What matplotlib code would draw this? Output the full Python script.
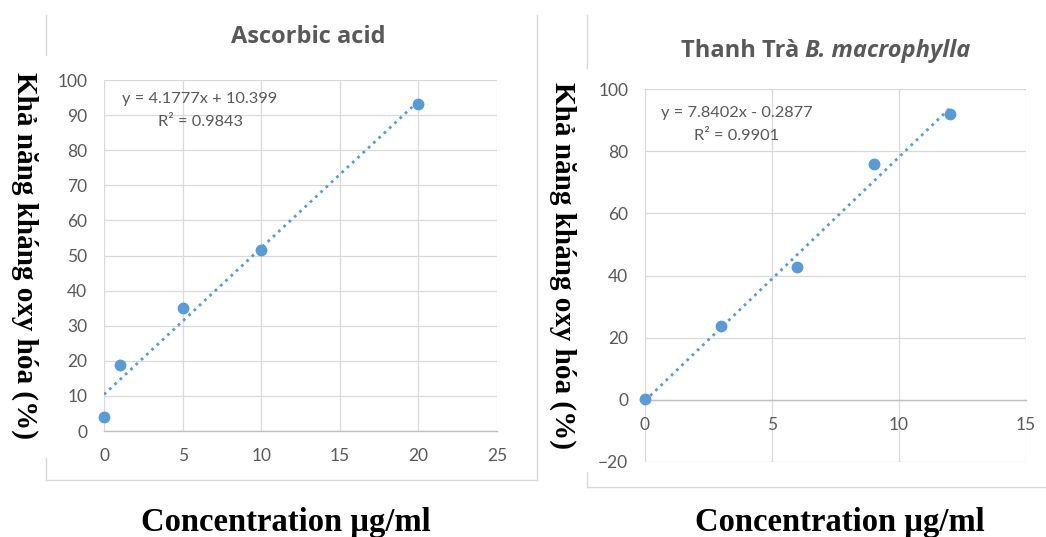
import matplotlib
matplotlib.use("Agg")
import matplotlib.pyplot as plt
from matplotlib.lines import Line2D

# data
asc_x = [0, 1, 5, 10, 20]
asc_y = [4.0, 18.8, 35.0, 51.5, 93.1]
asc_fit = (4.1777, 10.399)
asc_eq = ["y = 4.1777x + 10.399", "R² = 0.9843"]

tt_x = [0, 3, 6, 9, 12]
tt_y = [0.3, 23.7, 42.8, 76.0, 92.0]
tt_fit = (7.8402, -0.2877)
tt_eq = ["y = 7.8402x - 0.2877", "R² = 0.9901"]

blue = "#5b9bd5"
grey_txt = "#595959"
grid_c = "#d9d9d9"
excel_font = "Lato"
title_font = "Open Sans"
serif_font = "Liberation Serif"
ylab = "Khả năng kháng oxy hóa (%)"
xlab = "Concentration µg/ml"

W, H = 1046, 537
fig = plt.figure(figsize=(W / 100, H / 100), dpi=100)


def fx(px):
    return px / W


def fy(py):
    return 1 - py / H


def setup(ax, xlim, xticks, ylim, yticks):
    ax.set_xlim(*xlim)
    ax.set_ylim(*ylim)
    ax.set_xticks(xticks)
    ax.set_yticks(yticks)
    ax.grid(True, color=grid_c, linewidth=0.9)
    ax.set_axisbelow(True)
    for s in ["top", "right", "left"]:
        ax.spines[s].set_visible(False)
    ax.spines["bottom"].set_position(("data", 0))
    ax.spines["bottom"].set_color("#bfbfbf")
    ax.spines["bottom"].set_linewidth(1.0)
    ax.tick_params(length=0, labelsize=12.5, labelcolor=grey_txt)
    ax.tick_params(axis="x", pad=12.5)
    ax.tick_params(axis="y", pad=12)
    for lb in ax.get_xticklabels() + ax.get_yticklabels():
        lb.set_fontfamily(excel_font)


def draw(ax, xs, ys, fit, xend):
    m, b = fit
    x0 = xs[0]
    ax.plot([x0, xend], [m * x0 + b, m * xend + b], color=blue,
            linewidth=2.0, linestyle=(0, (1, 1.6)), zorder=2)
    ax.plot(xs, ys, "o", color=blue, markersize=7.5, zorder=3, clip_on=False)


# left chart: Ascorbic acid
ax1 = fig.add_axes([fx(104), fy(431), fx(497) - fx(104), fy(80) - fy(431)])
setup(ax1, (0, 25), [0, 5, 10, 15, 20, 25], (0, 100), range(0, 101, 10))
draw(ax1, asc_x, asc_y, asc_fit, 20)
fig.text(fx(308), fy(37), "Ascorbic acid", ha="center", va="center",
         fontsize=17, fontweight="bold", color=grey_txt, family=title_font)
fig.text(fx(200), fy(99), asc_eq[0], ha="center", va="center",
         fontsize=11.8, color=grey_txt, family=excel_font)
fig.text(fx(200), fy(122), asc_eq[1], ha="center", va="center",
         fontsize=11.8, color=grey_txt, family=excel_font)

# right chart: Thanh Tra
ax2 = fig.add_axes([fx(645), fy(462), fx(1026) - fx(645), fy(89) - fy(462)])
setup(ax2, (0, 15), [0, 5, 10, 15], (-20, 100), range(-20, 101, 20))
draw(ax2, tt_x, tt_y, tt_fit, 12)
fig.text(fx(799), fy(51), "Thanh Trà", ha="right", va="center",
         fontsize=17, fontweight="bold", color=grey_txt, family=title_font)
fig.text(fx(805), fy(51), "B. macrophylla", ha="left", va="center",
         fontsize=17, fontweight="bold", style="italic", color=grey_txt,
         family=title_font)
fig.text(fx(737), fy(113), tt_eq[0], ha="center", va="center",
         fontsize=11.8, color=grey_txt, family=excel_font)
fig.text(fx(737), fy(136), tt_eq[1], ha="center", va="center",
         fontsize=11.8, color=grey_txt, family=excel_font)

# axis titles (pasted-in bold serif labels)
fig.text(fx(25), fy(256), ylab, rotation=270, ha="center", va="center",
         fontsize=21, fontweight="bold", family=serif_font, color="black")
fig.text(fx(563), fy(266), ylab, rotation=270, ha="center", va="center",
         fontsize=21, fontweight="bold", family=serif_font, color="black")
fig.text(fx(286), fy(522), xlab, ha="center", va="center",
         fontsize=23.5, fontweight="bold", family=serif_font, color="black")
fig.text(fx(840), fy(522), xlab, ha="center", va="center",
         fontsize=23.5, fontweight="bold", family=serif_font, color="black")

# chart-area borders of the two pasted panels
frame = "#d9d9d9"
segs = [
    ((46, 15), (46, 55)), ((46, 458), (46, 480)), ((46, 480), (537, 480)),
    ((537, 15), (537, 480)),
    ((587, 15), (587, 68)), ((587, 472), (587, 487)), ((587, 487), (1046, 487)),
]
for (xa, ya), (xb, yb) in segs:
    fig.add_artist(Line2D([fx(xa), fx(xb)], [fy(ya), fy(yb)], color=frame,
                          linewidth=1.0, transform=fig.transFigure))

fig.savefig("out.png", dpi=100, facecolor="white")
